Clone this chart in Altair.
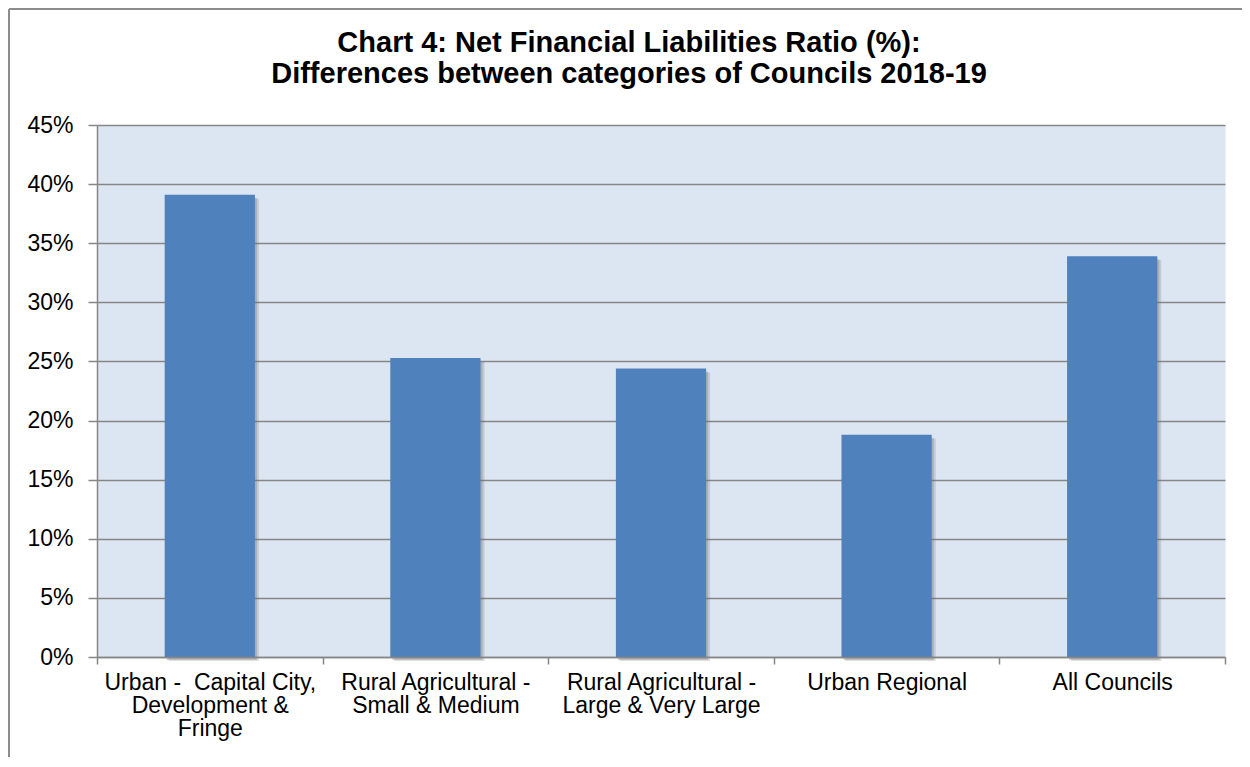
import altair as alt
import pandas as pd

categories = [
    "Urban - \u00a0Capital City,|Development &|Fringe",
    "Rural Agricultural -|Small & Medium",
    "Rural Agricultural -|Large & Very Large",
    "Urban Regional",
    "All Councils",
]
values = [39.1, 25.3, 24.4, 18.8, 33.9]
y_ticks = [0, 5, 10, 15, 20, 25, 30, 35, 40, 45]
title_lines = [
    "Chart 4: Net Financial Liabilities Ratio (%):",
    "Differences between categories of Councils 2018-19",
]

FONT = "Liberation Sans, Arial, sans-serif"
GRAY = "#868686"
W, H = 1128, 532
PAD = {"left": 89, "top": 117, "right": 17, "bottom": 100}

df = pd.DataFrame({"category": categories, "value": values})

x = alt.X(
    "category:N",
    sort=categories,
    scale=alt.Scale(paddingInner=0, paddingOuter=0),
    axis=alt.Axis(
        title=None,
        labelAngle=0,
        labelExpr="split(datum.label, '|')",
        tickBand="extent",
        tickSize=7,
        tickColor=GRAY,
        tickWidth=1.5,
        domainColor=GRAY,
        domainWidth=1.5,
        labelFont=FONT,
        labelFontSize=23,
        labelColor="black",
        labelPadding=7,
        labelLineHeight=23,
        labelBaseline="top",
        labelLimit=400,
        labelOverlap=False,
        grid=False,
        zindex=1,
    ),
)
y = alt.Y(
    "value:Q",
    scale=alt.Scale(domain=[0, 45], nice=False),
    axis=alt.Axis(
        title=None,
        values=y_ticks,
        labelExpr="datum.value + '%'",
        grid=True,
        gridColor=GRAY,
        gridWidth=1.5,
        domainColor=GRAY,
        domainWidth=1.5,
        tickColor=GRAY,
        tickWidth=1.5,
        tickSize=9,
        labelPadding=15,
        labelFont=FONT,
        labelFontSize=23,
        labelColor="black",
    ),
)

base = alt.Chart(df)
shadow1 = base.mark_bar(width=alt.RelativeBandSize(0.4), color="#6f6f6f", opacity=0.22,
                        xOffset=4, yOffset=4).encode(x=x, y=y)
shadow2 = base.mark_bar(width=alt.RelativeBandSize(0.4), color="#6f6f6f", opacity=0.3,
                        xOffset=2, yOffset=3).encode(x=x, y=y)
bars = base.mark_bar(width=alt.RelativeBandSize(0.4), color="#4F81BD").encode(x=x, y=y)

frame_df = pd.DataFrame({"k": [0]})
left_border = alt.Chart(frame_df).mark_rule(color="#8c8c8c", strokeWidth=2).encode(
    x=alt.value(-PAD["left"] + 1),
    y=alt.value(-PAD["top"] + 1),
    y2=alt.value(H + PAD["bottom"]),
)
top_border = alt.Chart(frame_df).mark_rule(color="#8c8c8c", strokeWidth=2).encode(
    x=alt.value(-PAD["left"] + 1),
    x2=alt.value(W + PAD["right"]),
    y=alt.value(-PAD["top"] + 1),
)

chart = (
    alt.layer(shadow1, shadow2, bars, left_border, top_border)
    .properties(
        width=W,
        height=H,
        autosize=alt.AutoSizeParams(type="none"),
        padding=PAD,
        title=alt.Title(
            title_lines,
            font=FONT,
            fontSize=29,
            fontWeight="bold",
            color="black",
            lineHeight=31,
            anchor="middle",
            dx=-32,
            dy=117,
            offset=36,
        ),
        background="white",
    )
    .configure_view(fill="#DCE6F2", stroke="transparent")
)

chart.save("out.html", embed_options={"renderer": "svg", "actions": False})
